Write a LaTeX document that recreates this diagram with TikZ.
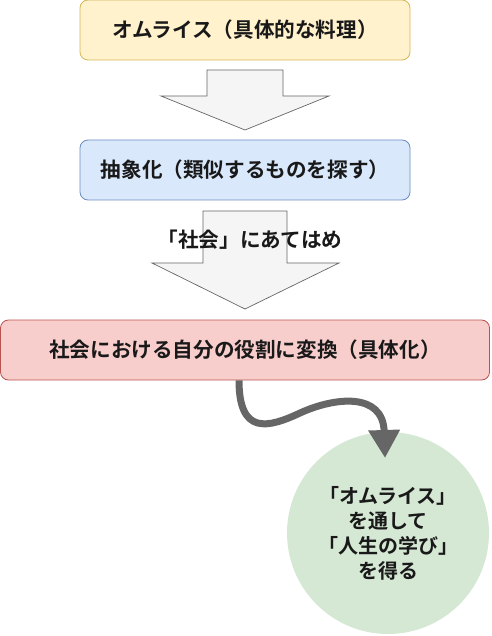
\documentclass[tikz,border=0pt]{standalone}
\usepackage{fontspec}
\newfontfamily\jp{Noto Sans CJK JP}[BoldFont={Noto Sans CJK JP Bold}]
\usetikzlibrary{arrows.meta}
\definecolor{yfill}{HTML}{FFF2CC}
\definecolor{ydraw}{HTML}{D6B656}
\definecolor{bfill}{HTML}{DAE8FC}
\definecolor{bdraw}{HTML}{6C8EBF}
\definecolor{rfill}{HTML}{F8CECC}
\definecolor{rdraw}{HTML}{B85450}
\definecolor{gfill}{HTML}{D5E8D4}
\definecolor{afill}{HTML}{F5F5F5}
\definecolor{adraw}{HTML}{666666}
\tikzset{
  box/.style={rounded corners=8pt, line width=0.8pt, minimum height=60pt, inner sep=0pt,
    font=\jp\bfseries\fontsize{20.6}{24}\selectfont, text=black!90},
  blockarrow/.style={fill=afill, draw=adraw, line width=0.7pt},
  circ/.style={circle, fill=gfill, minimum size=202pt, inner sep=0pt, align=center,
    font=\jp\bfseries\fontsize{20}{25}\selectfont, text=black!90},
  lbl/.style={font=\jp\bfseries\fontsize{20.6}{24}\selectfont, text=black!90, inner sep=0pt},
  wave/.style={draw=adraw, line width=7pt, -{Triangle[width=30pt,length=28pt]}}
}
\begin{document}
\begin{tikzpicture}[x=1pt,y=-1pt]
\useasboundingbox (0,0) rectangle (491,636);
\node[box, fill=yfill, draw=ydraw, minimum width=330pt] (b1) at (245,30) {オムライス（具体的な料理）};
\node[box, fill=bfill, draw=bdraw, minimum width=330pt] (b2) at (245,170) {抽象化（類似するものを探す）};
\node[box, fill=rfill, draw=rdraw, minimum width=489pt] (b3) at (245,350) {社会における自分の役割に変換（具体化）};
\node[circ] (c) at (388,533) {「オムライス」\\を通して\\「人生の学び」\\を得る};
% block arrows
\draw[blockarrow] (207,70) -- (283,70) -- (283,96) -- (329,96) -- (245,130) -- (161,96) -- (207,96) -- cycle;
\draw[blockarrow] (203,211) -- (287,211) -- (287,263) -- (339,263) -- (245,309) -- (152,263) -- (203,263) -- cycle;
\node[lbl] (l) at (250,240) {「社会」にあてはめ};
% wavy arrow
\coordinate (s) at ([xshift=-6pt]b3.south);
\coordinate (tip) at (385,458);
\draw[wave] (s) .. controls +(0,55) and (268,428) .. (300,413)
  .. controls (335,397) and (383,392) .. (tip);
\end{tikzpicture}
\end{document}
